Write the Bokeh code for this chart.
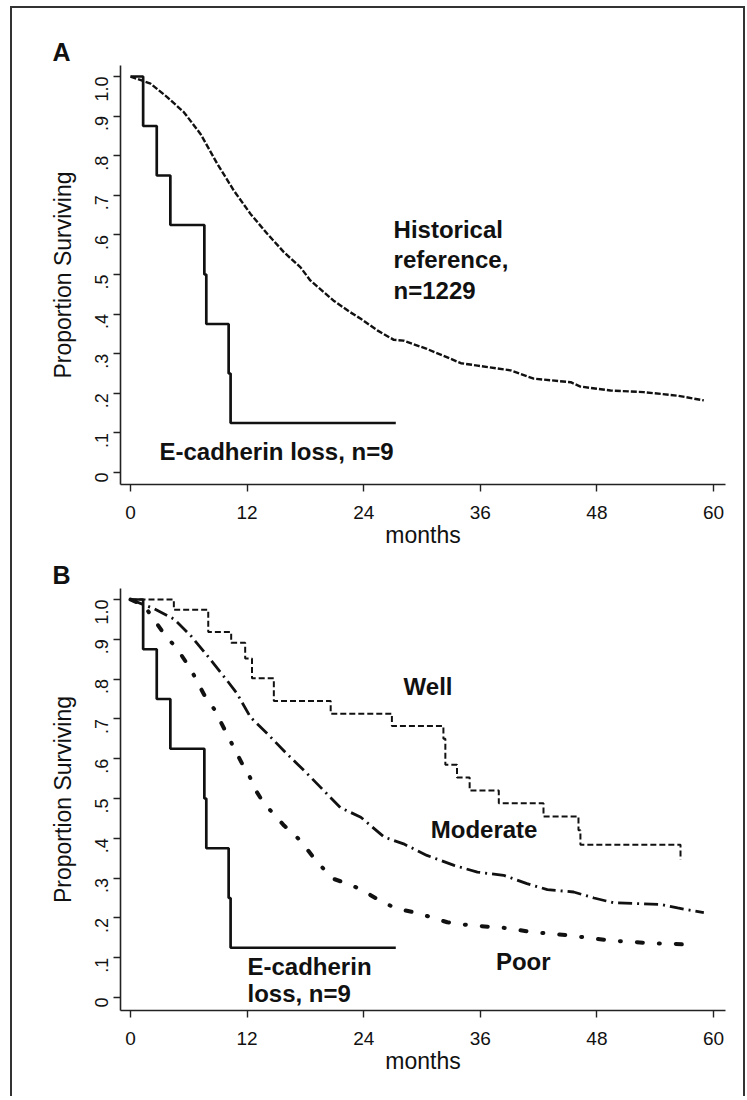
import math
from bokeh.plotting import figure
from bokeh.models import Label, FixedTicker
from bokeh.layouts import column
from bokeh.embed import file_html
from bokeh.resources import INLINE

# ---------------- data ----------------
x_ticks = [0, 12, 24, 36, 48, 60]
y_ticks = [0, 0.1, 0.2, 0.3, 0.4, 0.5, 0.6, 0.7, 0.8, 0.9, 1.0]
y_tick_labels = ["0", ".1", ".2", ".3", ".4", ".5", ".6", ".7", ".8", ".9", "1.0"]

# E-cadherin loss (step, n=9)
ecad_months = [0, 1.3, 2.7, 4.1, 7.6, 7.8, 10.1, 10.3, 27.3]
ecad_surv = [1.0, 0.875, 0.75, 0.625, 0.5, 0.375, 0.25, 0.125, 0.125]

# Historical reference, n=1229
hist_months = [0, 2.06, 3.77, 5.49, 7.2, 8.92, 10.63, 12.35, 14.07, 15.8, 17.5, 18.5,
               20.9, 22.6, 23.7, 25.4, 27.1, 28.1, 30.5, 32.2, 34.0, 35.7, 39.1, 41.5,
               45.3, 46.3, 49.4, 52.8, 56.3, 59.0]
hist_surv = [1.0, 0.982, 0.948, 0.910, 0.855, 0.78, 0.712, 0.653, 0.603, 0.556, 0.518, 0.485,
             0.434, 0.405, 0.388, 0.359, 0.335, 0.333, 0.312, 0.295, 0.276, 0.27, 0.258, 0.237,
             0.228, 0.217, 0.207, 0.203, 0.194, 0.182]

# Well differentiated (step)
well_months = [0, 4.46, 8.0, 10.36, 11.8, 12.5, 14.75, 20.6, 26.9, 32.2, 32.4, 33.6, 34.9,
               37.9, 42.5, 46.1, 46.3, 56.6]
well_surv = [1.0, 0.974, 0.918, 0.891, 0.852, 0.802, 0.745, 0.713, 0.682, 0.65, 0.585, 0.553,
             0.52, 0.488, 0.455, 0.42, 0.384, 0.346]

# Moderate
mod_months = [0, 2.4, 4.46, 6.17, 7.9, 9.95, 10.98, 12.35, 14.07, 16.1, 18.2, 20.2, 21.6, 23.7,
              26.1, 28.1, 30.5, 33.3, 35.7, 38.4, 40.8, 42.9, 45.6, 47.7, 49.7, 54.5, 56.3, 59.0]
mod_surv = [1.0, 0.977, 0.951, 0.91, 0.859, 0.796, 0.763, 0.704, 0.663, 0.612, 0.562, 0.512,
            0.477, 0.453, 0.403, 0.386, 0.357, 0.332, 0.315, 0.307, 0.286, 0.271, 0.265, 0.25,
            0.238, 0.234, 0.225, 0.213]

# Poor
poor_months = [0, 1.37, 2.4, 3.4, 4.8, 6.17, 7.7, 8.6, 11.66, 12.2, 13.0, 13.7, 15.8, 17.5,
               19.2, 20.9, 22.3, 23.7, 25.6, 27.4, 29.2, 30.9, 32.6, 35.0, 38.4, 41.5, 45.1,
               49.4, 53.9, 55.9, 58.3]
poor_surv = [1.0, 0.985, 0.951, 0.915, 0.876, 0.826, 0.755, 0.725, 0.579, 0.558, 0.516, 0.489,
             0.432, 0.394, 0.34, 0.298, 0.286, 0.272, 0.244, 0.223, 0.214, 0.202, 0.189, 0.181,
             0.175, 0.164, 0.156, 0.143, 0.136, 0.135, 0.131]

FONT = "Liberation Sans"
INK = "#111111"


def make_panel(height, top, bottom, y_lo, y_hi, letter):
    p = figure(width=731, height=height, output_backend="svg", toolbar_location=None,
               x_range=(-1.03, 61.23), y_range=(y_lo, y_hi),
               min_border_left=108, min_border_right=18,
               min_border_top=top, min_border_bottom=bottom)
    p.outline_line_color = None
    p.grid.visible = False
    p.background_fill_color = "white"
    p.border_fill_color = "white"

    p.title.text = letter
    p.title.align = "left"
    p.title.offset = -68
    p.title.standoff = 0
    p.title.text_font = FONT
    p.title.text_font_size = "25px"
    p.title.text_font_style = "bold"
    p.title.text_color = INK

    p.xaxis.ticker = FixedTicker(ticks=x_ticks)
    p.yaxis.ticker = FixedTicker(ticks=y_ticks)
    p.yaxis.major_label_overrides = {t: s for t, s in zip(y_ticks, y_tick_labels)}
    for ax in (p.xaxis[0], p.yaxis[0]):
        ax.axis_line_color = "#222222"
        ax.axis_line_width = 1.6
        ax.major_tick_line_color = "#222222"
        ax.major_tick_line_width = 1.4
        ax.major_tick_out = 7
        ax.major_tick_in = 0
        ax.minor_tick_line_color = None
        ax.major_label_text_font = FONT
        ax.major_label_text_color = INK
        ax.axis_label_text_font = FONT
        ax.axis_label_text_font_style = "normal"
        ax.axis_label_text_color = INK
        ax.axis_label_text_font_size = "23px"
    p.xaxis.major_label_text_font_size = "19px"
    p.yaxis.major_label_text_font_size = "18px"
    p.xaxis.major_label_standoff = 14
    p.yaxis.major_label_standoff = 12
    p.yaxis.major_label_orientation = math.pi / 2
    p.xaxis.axis_label = "months"
    p.yaxis.axis_label = "Proportion Surviving"
    p.xaxis.axis_label_standoff = 0
    p.yaxis.axis_label_standoff = 10
    return p


def add_label(p, text, x, y, size="24px"):
    p.add_layout(Label(x=x, y=y, text=text, text_font=FONT, text_font_size=size,
                       text_font_style="bold", text_color=INK,
                       text_align="left", text_baseline="alphabetic"))


# ---------------- Panel A ----------------
pa = make_panel(548, 57, 72, -0.0303, 1.0278, "A")
pa.line(hist_months, hist_surv, line_color=INK, line_width=2.4, line_dash="6 2")
pa.step(ecad_months, ecad_surv, mode="after", line_color=INK, line_width=2.7)
add_label(pa, "Historical", 27.07, 0.613)
add_label(pa, "reference,", 27.07, 0.538)
add_label(pa, "n=1229", 27.07, 0.460)
add_label(pa, "E-cadherin loss, n=9", 2.98, 0.053)

# ---------------- Panel B ----------------
pb = make_panel(540, 32, 86, -0.0327, 1.0276, "B")
pb.step(well_months, well_surv, mode="after", line_color=INK, line_width=2.0, line_dash="6 3")
pb.line(mod_months, mod_surv, line_color=INK, line_width=2.8, line_dash="14 5 2 5")
pb.line(poor_months, poor_surv, line_color=INK, line_width=4.0, line_dash="6 16 1 16",
        line_cap="round")
pb.step(ecad_months, ecad_surv, mode="after", line_color=INK, line_width=2.7)
add_label(pb, "Well", 28.1, 0.781)
add_label(pb, "Moderate", 30.9, 0.421)
add_label(pb, "Poor", 37.6, 0.090)
add_label(pb, "E-cadherin", 12.04, 0.077)
add_label(pb, "loss, n=9", 12.04, 0.010)

layout = column(pa, pb, margin=(6, 0, 0, 10),
                styles={"border-top": "2px solid #333333",
                        "border-left": "2px solid #333333",
                        "border-right": "2px solid #333333"})

open("out.html", "w").write(file_html(layout, INLINE))
